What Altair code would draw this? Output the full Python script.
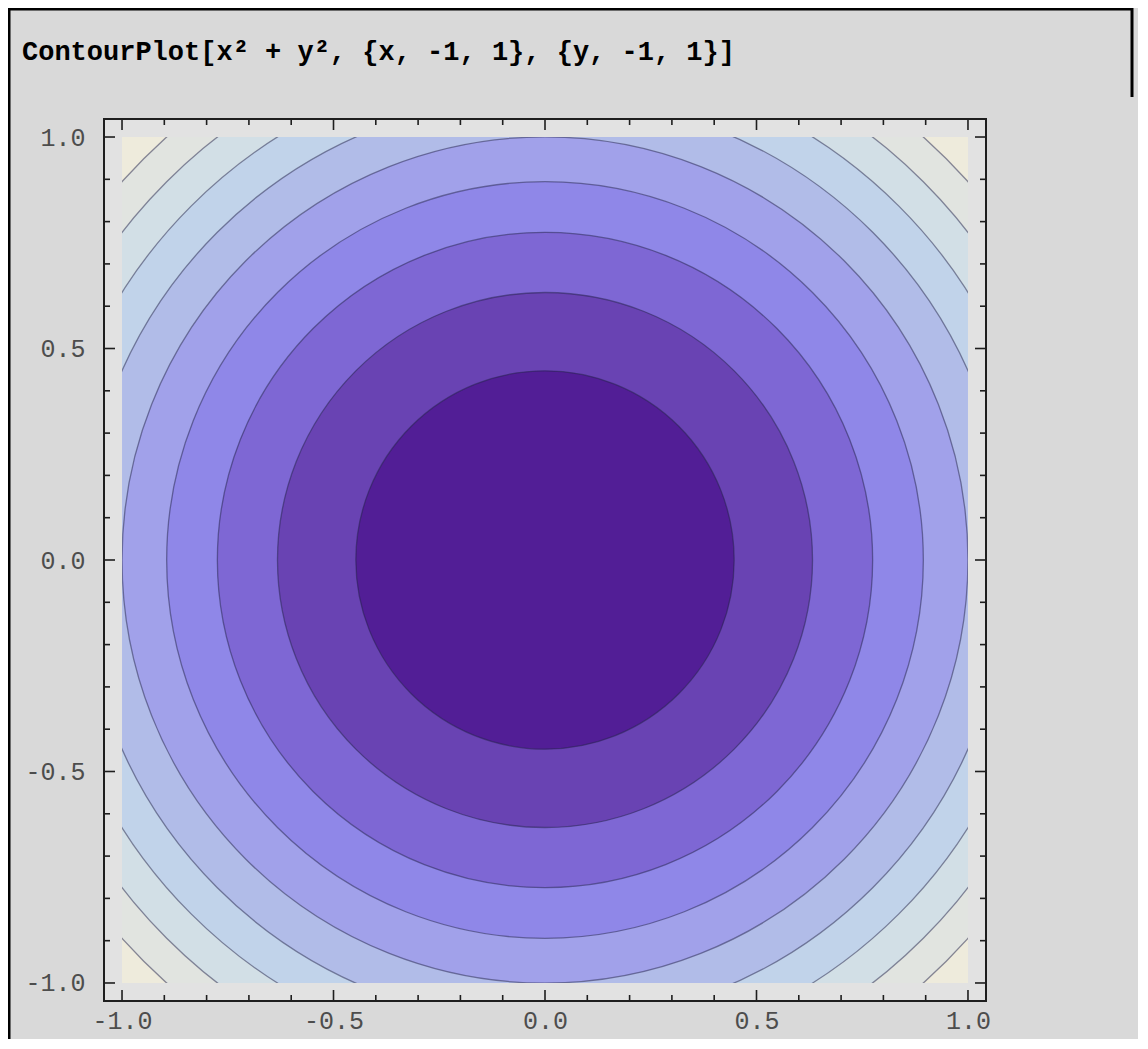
import altair as alt
import pandas as pd

# ---------------- data ----------------
TITLE = "ContourPlot[x² + y², {x, -1, 1}, {y, -1, 1}]"
LEVELS = [1.8, 1.6, 1.4, 1.2, 1.0, 0.8, 0.6, 0.4, 0.2]          # contour levels of x^2+y^2
FILLS = ["#e1e4e0", "#d2dfe6", "#c1d3ea", "#b1bce8", "#a1a1ea",
         "#8f87e8", "#7e67d4", "#6943b3", "#521e96"]            # fill inside each level
OUTER_FILL = "#eeebdc"                                          # band 1.8 .. 2.0
DATA_RANGE = [-1.0, 1.0]
PAD_RANGE = [-1.0426, 1.0426]
MAJOR = [-1.0, -0.5, 0.0, 0.5, 1.0]
MINOR = [-0.9, -0.8, -0.7, -0.6, -0.4, -0.3, -0.2, -0.1,
         0.1, 0.2, 0.3, 0.4, 0.6, 0.7, 0.8, 0.9]

# ---------------- layout ----------------
W = 882
H = 882
PX_PER_UNIT = W / (PAD_RANGE[1] - PAD_RANGE[0])
# Vega circle symbol: radius = sqrt(size) / 2  ->  size = (2 r)^2 = 4 r^2
AREA_PER_LEVEL = 4.0 * PX_PER_UNIT ** 2
MONO = "Liberation Mono"
FRAME = "#1e1e1e"

lab_expr = "datum.value < 0 ? '-' + format(-datum.value, '.1f') : format(datum.value, '.1f')"
XS = alt.Scale(domain=PAD_RANGE, nice=False, zero=False)
YS = alt.Scale(domain=PAD_RANGE, nice=False, zero=False)
XA = alt.Axis(values=MAJOR, labelExpr=lab_expr, ticks=False, tickSize=0, domain=False,
              grid=False, labelFont=MONO, labelFontSize=25, labelColor="#4d4d4d",
              labelPadding=7, labelFlush=False, labelOverlap=False, title=None,
              orient="bottom")
YA = alt.Axis(values=MAJOR, labelExpr=lab_expr, ticks=False, tickSize=0, domain=False,
              grid=False, labelFont=MONO, labelFontSize=25, labelColor="#4d4d4d",
              labelPadding=19, labelFlush=False, labelOverlap=False, title=None,
              orient="left")


def X(f):
    return alt.X(f, type="quantitative", scale=XS, axis=XA)


def Y(f):
    return alt.Y(f, type="quantitative", scale=YS, axis=YA)


# base region (outermost band)
base_df = pd.DataFrame({"x": [DATA_RANGE[0]], "x2": [DATA_RANGE[1]],
                        "y": [DATA_RANGE[0]], "y2": [DATA_RANGE[1]]})
base = alt.Chart(base_df).mark_rect(fill=OUTER_FILL).encode(
    x=X("x"), x2="x2", y=Y("y"), y2="y2")

# nested filled contour discs
circ_df = pd.DataFrame({"level": LEVELS, "fill": FILLS,
                        "cx": [0.0] * len(LEVELS), "cy": [0.0] * len(LEVELS)})
circles = alt.Chart(circ_df).mark_circle(
    opacity=1, stroke="#24244a", strokeWidth=1.3, strokeOpacity=0.5, clip=True
).encode(
    x=X("cx"), y=Y("cy"),
    size=alt.Size("level:Q", scale=alt.Scale(type="linear", domain=[0, 1],
                                             range=[0, AREA_PER_LEVEL], zero=True),
                  legend=None),
    color=alt.Color("fill:N", scale=None),
    order=alt.Order("level:Q", sort="descending"),
)

# plot-range padding strips
strip_df = pd.DataFrame({
    "x": [PAD_RANGE[0], DATA_RANGE[1], DATA_RANGE[0], DATA_RANGE[0]],
    "x2": [DATA_RANGE[0], PAD_RANGE[1], DATA_RANGE[1], DATA_RANGE[1]],
    "y": [PAD_RANGE[0], PAD_RANGE[0], PAD_RANGE[0], DATA_RANGE[1]],
    "y2": [PAD_RANGE[1], PAD_RANGE[1], DATA_RANGE[0], PAD_RANGE[1]],
})
strips = alt.Chart(strip_df).mark_rect(fill="#e2e2e2").encode(
    x=X("x"), x2="x2", y=Y("y"), y2="y2")

# frame
frame_df = pd.DataFrame({"x": [PAD_RANGE[0]], "x2": [PAD_RANGE[1]],
                         "y": [PAD_RANGE[0]], "y2": [PAD_RANGE[1]]})
frame = alt.Chart(frame_df).mark_rect(fill="transparent", stroke=FRAME, strokeWidth=2).encode(
    x=X("x"), x2="x2", y=Y("y"), y2="y2")

# inward frame ticks
tick_layers = []
for vals, ln in [(MAJOR, 11), (MINOR, 6)]:
    tdf = pd.DataFrame({"v": vals})
    rule = alt.Chart(tdf).mark_rule(color=FRAME, strokeWidth=1.6)
    tick_layers += [
        rule.encode(x=X("v"), y=alt.value(H), y2=alt.value(H - ln)),
        rule.encode(x=X("v"), y=alt.value(0), y2=alt.value(ln)),
        rule.encode(y=Y("v"), x=alt.value(0), x2=alt.value(ln)),
        rule.encode(y=Y("v"), x=alt.value(W), x2=alt.value(W - ln)),
    ]

# input-cell text
title_df = pd.DataFrame({"t": [TITLE]})
title = alt.Chart(title_df).mark_text(
    align="left", baseline="alphabetic", font=MONO, fontSize=27,
    fontWeight="bold", color="#000000"
).encode(text="t:N", x=alt.value(-82), y=alt.value(-59))

# notebook cell border
border_df = pd.DataFrame({"a": [0]})
brule = alt.Chart(border_df).mark_rule(color="#000000", strokeWidth=3)
borders = [
    brule.encode(x=alt.value(-95), y=alt.value(-111), y2=alt.value(940)),
    brule.encode(y=alt.value(-110), x=alt.value(-96), x2=alt.value(1029)),
    brule.encode(x=alt.value(1028), y=alt.value(-111), y2=alt.value(-22)),
]

chart = alt.layer(base, circles, strips, *tick_layers, frame, title, *borders).properties(
    width=W, height=H,
    autosize=alt.AutoSizeParams(type="none"),
    padding={"left": 96, "top": 111, "right": 152, "bottom": 38},
    background="#d9d9d9",
).configure_view(stroke=None, fill="#e2e2e2")

chart.save("out.html", embed_options={"renderer": "svg", "actions": False})
